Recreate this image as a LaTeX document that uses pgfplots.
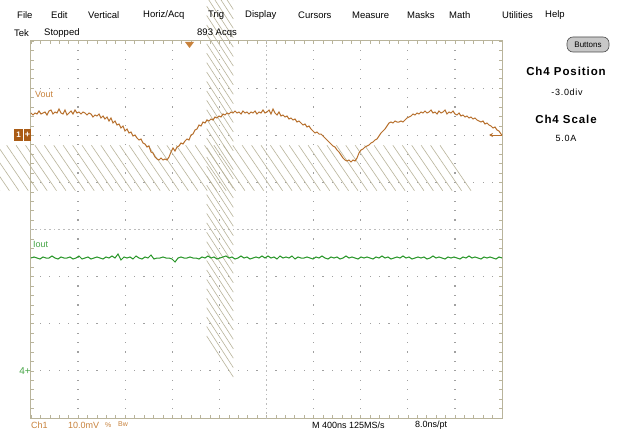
\documentclass[border=0pt]{standalone}
\usepackage{fontspec}
\setmainfont{Liberation Sans}
\newfontfamily\tekfont[LetterSpace=8]{Liberation Sans}
\usepackage{pgfplots}
\pgfplotsset{compat=1.18}
\usetikzlibrary{backgrounds,arrows.meta}
\definecolor{voutc}{RGB}{183,112,45}
\definecolor{voutl}{RGB}{200,130,60}
\definecolor{ch1box}{RGB}{170,92,22}
\definecolor{ioutc}{RGB}{40,150,40}
\definecolor{ioutl}{RGB}{70,165,70}
\definecolor{framec}{RGB}{185,180,155}
\definecolor{gridc}{RGB}{160,160,160}
\begin{document}
\begin{tikzpicture}
\begin{axis}[
  scale only axis, width=471pt, height=377pt,
  xmin=31, xmax=502, ymin=41, ymax=418, y dir=reverse,
  clip=false,
  xtick={31,78.1,125.2,172.3,219.4,266.5,313.6,360.7,407.8,454.9,502},
  ytick={41,88.125,135.25,182.375,229.5,276.625,323.75,370.875,418},
  minor tick num=4,
  xticklabels={}, yticklabels={},
  tick align=inside, major tick length=3.5pt, minor tick length=3pt,
  tick style={draw=framec, line width=0.6pt},
  axis line style={draw=framec, line width=1pt},
]
% graticule dots and centre cross
\pgfplotsextra{
  \foreach \gx in {78.1,125.2,172.3,219.4,313.6,360.7,407.8,454.9}{
    \foreach \k in {1,...,39}{
      \fill[gridc] (axis cs:\gx,{41+9.425*\k}) ++(-0.6pt,-0.6pt) rectangle ++(1.2pt,1.2pt);
    }
  }
  \foreach \gy in {88.125,135.25,182.375,276.625,323.75,370.875}{
    \foreach \k in {1,...,49}{
      \fill[gridc] (axis cs:{31+9.42*\k},\gy) ++(-0.6pt,-0.6pt) rectangle ++(1.2pt,1.2pt);
    }
  }
  \foreach \k in {0,...,100}{
    \fill[gridc!70] (axis cs:{31+4.71*\k},229.5) ++(-0.9pt,-0.5pt) rectangle ++(1.8pt,1pt);
  }
  \foreach \k in {0,...,80}{
    \fill[gridc!70] (axis cs:266.5,{41+4.7125*\k}) ++(-0.5pt,-0.9pt) rectangle ++(1pt,1.8pt);
  }
  \foreach \k in {0,...,50}{
    \draw[framec, line width=0.6pt] (axis cs:{31+9.42*\k},229.5) ++(0,-2.2pt) -- ++(0,4.4pt);
  }
  \foreach \k in {0,...,40}{
    \draw[framec, line width=0.6pt] (axis cs:266.5,{41+9.425*\k}) ++(-2.2pt,0) -- ++(4.4pt,0);
  }
}

% Vout trace
\addplot[voutc, line width=1pt] coordinates {
(31,113)(33,115)(35,113)(37,114)(39,111)(41,114)(43,113)(45,112)(47,115)(49,111)
(51,110)(53,114)(55,112)(57,113)(59,109)(61,113)(63,114)(65,110)(67,115)(69,113)
(71,111)(73,114)(75,110)(77,113)(79,112)(81,114)(83,112)(85,113)(87,115)(89,113)
(91,114)(93,117)(95,115)(97,116)(99,114)(101,118)(103,116)(105,119)(107,117)(109,121)
(111,118)(113,123)(115,121)(117,125)(119,124)(121,128)(123,126)(125,131)(127,129)(129,133)
(131,132)(133,136)(135,135)(137,138)(139,140)(141,139)(143,143)(145,144)(147,147)(149,146)
(151,152)(153,153)(155,157)(157,159)(159,160)(161,158)(163,160)(165,159)(167,160)(169,157)
(171,152)(173,148)(175,151)(177,147)(179,146)(181,143)(183,144)(185,141)(187,139)(189,140)
(191,135)(193,134)(195,130)(197,129)(199,125)(201,126)(203,122)(205,123)(207,120)(209,121)
(211,119)(213,120)(215,117)(217,118)(219,116)(221,117)(223,114)(225,115)(227,113)(229,114)
(231,112)(233,113)(235,111)(237,113)(239,112)(241,114)(243,111)(245,113)(247,112)(249,114)
(251,112)(253,113)(255,111)(257,114)(259,112)(261,113)(263,110)(265,113)(267,112)(269,110)
(271,114)(273,109)(275,113)(277,115)(279,112)(281,116)(283,115)(285,117)(287,116)(289,119)
(291,118)(293,120)(295,119)(297,122)(299,121)(301,123)(303,125)(305,124)(307,127)(309,126)
(311,129)(313,131)(315,133)(317,132)(319,134)(321,134)(323,136)(325,138)(327,140)(329,142)
(331,144)(333,146)(335,147)(337,150)(339,152)(341,155)(343,158)(345,160)(347,161)(349,160)
(351,162)(353,160)(355,161)(357,158)(359,153)(361,150)(363,149)(365,147)(367,146)(369,145)
(371,143)(373,142)(375,140)(377,139)(379,136)(381,133)(383,131)(385,129)(387,126)(389,123)
(391,122)(393,123)(395,121)(397,122)(399,122)(401,121)(403,122)(405,120)(407,118)(409,117)
(411,116)(413,114)(415,115)(417,113)(419,114)(421,112)(423,113)(425,111)(427,113)(429,112)
(431,110)(433,113)(435,112)(437,114)(439,111)(441,113)(443,112)(445,110)(447,114)(449,112)
(451,113)(453,111)(455,114)(457,115)(459,113)(461,116)(463,115)(465,117)(467,116)(469,118)
(471,117)(473,119)(475,118)(477,120)(479,121)(481,122)(483,121)(485,124)(487,123)(489,125)
(491,126)(493,128)(495,127)(497,130)(499,131)(501,134)(502,135)
};

% Iout trace
\addplot[ioutc, line width=1pt] coordinates {
(31,258)(34,257)(37,258)(40,259)(43,257)(46,258)(49,258)(52,256)(55,258)(58,259)
(61,257)(64,258)(67,258)(70,257)(73,259)(76,258)(79,256)(82,259)(85,258)(88,257)
(91,259)(94,258)(97,257)(100,258)(103,259)(106,257)(109,258)(112,256)(115,258)(118,254)
(121,260)(124,257)(127,258)(130,257)(133,259)(136,256)(139,258)(142,259)(145,257)(148,258)
(151,255)(154,259)(157,258)(160,258)(163,257)(166,258)(169,258)(172,259)(175,262)(178,258)
(181,257)(184,258)(187,258)(190,257)(193,258)(196,258)(199,259)(202,257)(205,258)(208,256)
(211,258)(214,257)(217,259)(220,258)(223,257)(226,256)(229,258)(232,257)(235,259)(238,258)
(241,256)(244,258)(247,257)(250,259)(253,258)(256,257)(259,258)(262,256)(265,258)(268,256)
(271,258)(274,257)(277,259)(280,256)(283,258)(286,257)(289,258)(292,256)(295,259)(298,257)
(301,258)(304,258)(307,257)(310,258)(313,259)(316,257)(319,258)(322,256)(325,258)(328,259)
(331,257)(334,258)(337,257)(340,259)(343,258)(346,256)(349,258)(352,257)(355,258)(358,259)
(361,257)(364,258)(367,257)(370,258)(373,259)(376,257)(379,258)(382,256)(385,258)(388,257)
(391,259)(394,258)(397,257)(400,258)(403,256)(406,258)(409,257)(412,259)(415,258)(418,257)
(421,258)(424,257)(427,259)(430,258)(433,256)(436,258)(439,257)(442,258)(445,259)(448,257)
(451,258)(454,257)(457,258)(460,259)(463,257)(466,258)(469,256)(472,258)(475,257)(478,258)
(481,259)(484,257)(487,258)(490,257)(493,258)(496,259)(499,257)(502,258)
};

% labels in graticule
\node[anchor=west, text=voutl, font=\fontsize{9}{10}\selectfont, inner sep=0] at (axis cs:35,94) {Vout};
\node[anchor=west, text=ioutl, font=\fontsize{9}{10}\selectfont, inner sep=0] at (axis cs:33,244) {Iout};

% channel markers
\fill[ch1box] (axis cs:14,129) rectangle (axis cs:31,141);
\draw[white, line width=0.6pt] (axis cs:23,129) -- (axis cs:23,141);
\node[text=white, font=\fontsize{8}{8}\selectfont\bfseries, inner sep=0] at (axis cs:18.5,135) {1};
\node[text=white, font=\fontsize{9}{9}\selectfont\bfseries, inner sep=0] at (axis cs:27.5,135) {+};
\node[anchor=east, text=ioutl, font=\fontsize{10}{10}\selectfont, inner sep=0] at (axis cs:31,370.9) {4+};
\draw[voutc, line width=1pt, -{Stealth[length=4pt,width=4pt]}] (axis cs:502,135) -- (axis cs:489,135);
\fill[voutl] (axis cs:185,42) -- (axis cs:194,42) -- (axis cs:189.5,48) -- cycle;

% menu bar
\begin{scope}[every node/.style={anchor=west, inner sep=0, font=\fontsize{9.5}{10}\selectfont}]
\node at (axis cs:17,15.5) {File};
\node at (axis cs:51,15.5) {Edit};
\node at (axis cs:88,15.5) {Vertical};
\node at (axis cs:143,15.5) {Horiz/Acq};
\node at (axis cs:208,15.5) {Trig};
\node at (axis cs:245,15.5) {Display};
\node at (axis cs:298,15.5) {Cursors};
\node at (axis cs:352,15.5) {Measure};
\node at (axis cs:407,15.5) {Masks};
\node at (axis cs:449,15.5) {Math};
\node at (axis cs:502,15.5) {Utilities};
\node at (axis cs:545,15.5) {Help};
\node at (axis cs:14,33.5) {Tek};
\node at (axis cs:44,33.5) {Stopped};
\node at (axis cs:197,33.5) {893 Acqs};
\end{scope}

% Buttons
\draw[black!70, fill=black!22, rounded corners=6pt, line width=0.6pt] (axis cs:567,37) rectangle (axis cs:609,52);
\node[font=\fontsize{8}{8}\selectfont, inner sep=0] at (axis cs:588,44.5) {Buttons};

% right panel
\node[font=\tekfont\bfseries\fontsize{11.5}{12}\selectfont, inner sep=0] at (axis cs:566,71.5) {Ch4 Position};
\node[font=\tekfont\fontsize{9}{10}\selectfont, inner sep=0] at (axis cs:567,92) {-3.0div};
\node[font=\tekfont\bfseries\fontsize{11.5}{12}\selectfont, inner sep=0] at (axis cs:566,119) {Ch4 Scale};
\node[font=\tekfont\fontsize{9}{10}\selectfont, inner sep=0] at (axis cs:566,138.5) {5.0A};

% bottom status line
\begin{scope}[every node/.style={anchor=west, inner sep=0, font=\fontsize{9}{10}\selectfont}]
\node[text=voutl] at (axis cs:31,425.5) {Ch1};
\node[text=voutl] at (axis cs:68,425.5) {10.0mV};
\node[text=voutl, font=\fontsize{7}{7}\selectfont] at (axis cs:105,425) {\%};
\node[text=voutl, font=\fontsize{7}{7}\selectfont] at (axis cs:118,424) {Bw};
\node at (axis cs:312,425.5) {M 400ns 125MS/s};
\node at (axis cs:415,425.5) {8.0ns/pt};
\end{scope}

\coordinate (TL) at (axis cs:0,0);
\coordinate (BR) at (axis cs:620,436);
\end{axis}
\pgfresetboundingbox
\useasboundingbox (TL) rectangle (BR);
\begin{scope}[on background layer]
\fill[white] (TL) rectangle (BR);
\end{scope}
\end{tikzpicture}
\end{document}
